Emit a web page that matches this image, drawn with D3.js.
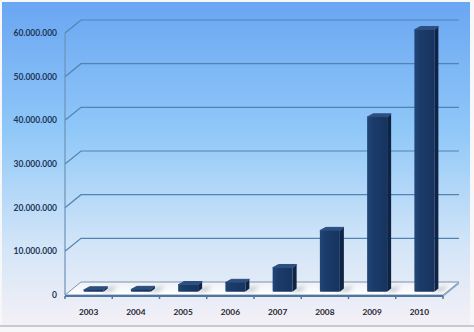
<!DOCTYPE html>
<html>
<head>
<meta charset="utf-8">
<script src="https://cdn.jsdelivr.net/npm/d3@7"></script>
<style>
  html, body { margin: 0; padding: 0; background: #f6f6f8; }
  svg { display: block; }
  text { font-family: Lato, "Open Sans", sans-serif; font-weight: bold; }
</style>
</head>
<body>
<svg></svg>
<script>
let svgWidth = 474
let svgHeight = 332

let years = ['2003', '2004', '2005', '2006', '2007', '2008', '2009', '2010']
let values = [400000, 500000, 1600000, 2100000, 5500000, 14000000, 40000000, 60000000]
let yTicks = [0, 10000000, 20000000, 30000000, 40000000, 50000000, 60000000]

// 3d offset of the back wall
let depthX = 16
let depthY = -13

let plotLeft = 65, plotRight = 443, plotBottom = 295, plotTop = 33

let svg = d3.select('svg').attr('width', svgWidth).attr('height', svgHeight)

let xScale = d3.scaleBand().domain(years).range([plotLeft, plotRight])
let yScale = d3.scaleLinear().domain([0, 60000000]).range([plotBottom, plotTop])

let fmt = d3.formatLocale({ decimal: ',', thousands: '.', grouping: [3], currency: ['', ''] }).format(',d')

let defs = svg.append('defs')

let bg = defs.append('linearGradient').attr('id', 'bg').attr('x1', 0).attr('y1', 0).attr('x2', 0).attr('y2', 1)
bg.append('stop').attr('offset', '0%').attr('stop-color', '#6aa6f2')
bg.append('stop').attr('offset', '40%').attr('stop-color', '#90c8f8')
bg.append('stop').attr('offset', '75%').attr('stop-color', '#d2e5f8')
bg.append('stop').attr('offset', '100%').attr('stop-color', '#f4f0f6')

let floorGrad = defs.append('linearGradient').attr('id', 'floor').attr('x1', 0).attr('y1', 0).attr('x2', 0).attr('y2', 1)
floorGrad.append('stop').attr('offset', '0%').attr('stop-color', '#eef1f5')
floorGrad.append('stop').attr('offset', '100%').attr('stop-color', '#ffffff')

let barGrad = defs.append('linearGradient').attr('id', 'barFront').attr('x1', 0).attr('y1', 0).attr('x2', 1).attr('y2', 0)
barGrad.append('stop').attr('offset', '0%').attr('stop-color', '#22467a')
barGrad.append('stop').attr('offset', '30%').attr('stop-color', '#1b3b69')
barGrad.append('stop').attr('offset', '100%').attr('stop-color', '#173460')

defs.append('filter').attr('id', 'blur').attr('x', '-50%').attr('y', '-50%').attr('width', '200%').attr('height', '200%')
  .append('feGaussianBlur').attr('stdDeviation', 2)

// background
svg.append('rect').attr('x', 0).attr('y', 0).attr('width', svgWidth).attr('height', svgHeight).attr('fill', '#f7f7f9')
svg.append('rect').attr('x', 2).attr('y', 2).attr('width', 468).attr('height', 323).attr('fill', 'url(#bg)')
svg.append('line').attr('x1', 0).attr('x2', svgWidth).attr('y1', 326).attr('y2', 326)
  .attr('stroke', '#c9c9cf').attr('stroke-width', 2)

// grid lines on the left wall and back wall
let grid = svg.append('g')
grid.selectAll('path.grid')
  .data(yTicks.slice(1))
  .enter()
  .append('path')
  .attr('class', 'grid')
  .attr('fill', 'none')
  .attr('stroke', '#5283b2')
  .attr('stroke-width', 1.2)
  .attr('d', function(d) {
    let y = yScale(d)
    return 'M' + plotLeft + ',' + y + ' L' + (plotLeft + depthX) + ',' + (y + depthY) + ' L' + (plotRight + depthX) + ',' + (y + depthY)
  })

grid.append('line')
  .attr('x1', plotLeft).attr('x2', plotLeft)
  .attr('y1', yScale(60000000)).attr('y2', plotBottom)
  .attr('stroke', '#6d92b8').attr('stroke-width', 1.2)

// floor
let floorPts = [[plotLeft, plotBottom], [plotRight, plotBottom], [plotRight + depthX, plotBottom + depthY], [plotLeft + depthX, plotBottom + depthY]]
svg.append('polygon')
  .attr('points', floorPts.map(p => p.join(',')).join(' '))
  .attr('fill', 'url(#floor)')
  .attr('stroke', '#7b95b3')
  .attr('stroke-width', 1)
svg.append('polygon')
  .attr('points', [[plotLeft, plotBottom], [plotRight, plotBottom], [plotRight + depthX, plotBottom + depthY], [plotRight + depthX, plotBottom + depthY + 2], [plotRight, plotBottom + 2], [plotLeft, plotBottom + 2]].map(p => p.join(',')).join(' '))
  .attr('fill', '#8fa9c6')

// front axis with ticks
svg.append('line').attr('x1', plotLeft).attr('x2', plotRight).attr('y1', plotBottom + 1).attr('y2', plotBottom + 1)
  .attr('stroke', '#4f74a0').attr('stroke-width', 2)
svg.selectAll('line.tick')
  .data(years.concat(['end']))
  .enter()
  .append('line')
  .attr('class', 'tick')
  .attr('x1', (d, i) => plotLeft + i * xScale.bandwidth())
  .attr('x2', (d, i) => plotLeft + i * xScale.bandwidth())
  .attr('y1', plotBottom + 1).attr('y2', plotBottom + 4)
  .attr('stroke', '#4f74a0').attr('stroke-width', 1.5)

// bars
let barW = 20
let z0 = 0.25, z1 = 0.5
let bars = svg.append('g')

function barGeom(d, i) {
  let cx = xScale(years[i]) + xScale.bandwidth() / 2
  let x0 = cx - barW / 2 + depthX * z0 + 1
  let yb = plotBottom + depthY * z0
  let h = plotBottom - yScale(d)
  let dx = depthX * (z1 - z0)
  let dy = depthY * (z1 - z0)
  return { x0: x0, x1: x0 + barW, yb: yb, yt: yb - h, dx: dx, dy: dy }
}

// shadows on the floor
bars.selectAll('path.shadow')
  .data(values)
  .enter()
  .append('path')
  .attr('class', 'shadow')
  .attr('fill', '#6c7f98')
  .attr('opacity', 0.6)
  .attr('filter', 'url(#blur)')
  .attr('d', function(d, i) {
    let g = barGeom(d, i)
    return 'M' + (g.x1 - 2) + ',' + g.yb + ' L' + (g.x1 + 8) + ',' + (g.yb - 1) + ' L' + (g.x1 + g.dx + 10) + ',' + (g.yb + g.dy - 2) + ' L' + (g.x1 + g.dx) + ',' + (g.yb + g.dy) + ' Z'
  })

bars.selectAll('path.side')
  .data(values)
  .enter()
  .append('path')
  .attr('class', 'side')
  .attr('fill', '#0f2444')
  .attr('d', function(d, i) {
    let g = barGeom(d, i)
    return 'M' + g.x1 + ',' + g.yb + ' L' + (g.x1 + g.dx) + ',' + (g.yb + g.dy) + ' L' + (g.x1 + g.dx) + ',' + (g.yt + g.dy) + ' L' + g.x1 + ',' + g.yt + ' Z'
  })

bars.selectAll('path.top')
  .data(values)
  .enter()
  .append('path')
  .attr('class', 'top')
  .attr('fill', '#2d4f80')
  .attr('stroke', '#2d4f80')
  .attr('stroke-width', 1)
  .attr('stroke-linejoin', 'round')
  .attr('d', function(d, i) {
    let g = barGeom(d, i)
    return 'M' + g.x0 + ',' + g.yt + ' L' + g.x1 + ',' + g.yt + ' L' + (g.x1 + g.dx) + ',' + (g.yt + g.dy) + ' L' + (g.x0 + g.dx + 2) + ',' + (g.yt + g.dy) + ' Z'
  })

bars.selectAll('rect.front')
  .data(values)
  .enter()
  .append('rect')
  .attr('class', 'front')
  .attr('fill', 'url(#barFront)')
  .attr('x', (d, i) => barGeom(d, i).x0)
  .attr('y', (d, i) => barGeom(d, i).yt)
  .attr('width', barW)
  .attr('height', (d, i) => barGeom(d, i).yb - barGeom(d, i).yt)
  .attr('rx', 1)

// y labels
svg.selectAll('text.ylab')
  .data(yTicks)
  .enter()
  .append('text')
  .attr('class', 'ylab')
  .attr('x', 57)
  .attr('y', d => yScale(d))
  .attr('dy', '0.35em')
  .attr('text-anchor', 'end')
  .attr('font-size', 8.5)
  .attr('fill', '#1c3658')
  .text(d => fmt(d))

// x labels
svg.selectAll('text.xlab')
  .data(years)
  .enter()
  .append('text')
  .attr('class', 'xlab')
  .attr('x', d => xScale(d) + xScale.bandwidth() / 2)
  .attr('y', 312)
  .attr('dy', '0.35em')
  .attr('text-anchor', 'middle')
  .attr('font-size', 8.3)
  .attr('fill', '#1e2530')
  .text(d => d)
</script>
</body>
</html>
